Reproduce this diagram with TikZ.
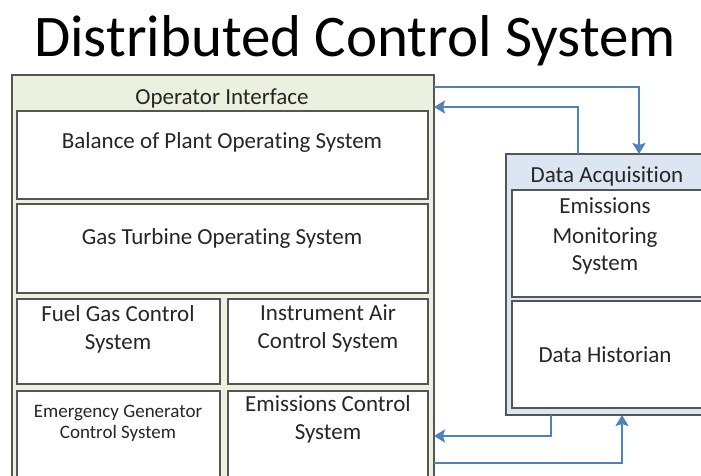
\documentclass[tikz,border=0pt]{standalone}
\usepackage{fontspec}
\setmainfont{Carlito}[Ligatures=NoCommon]
\usetikzlibrary{arrows.meta}
\definecolor{oifill}{HTML}{EBF1DE}
\definecolor{dafill}{HTML}{DCE6F2}
\definecolor{arr}{HTML}{4F81BD}
\definecolor{edge}{HTML}{555555}
\definecolor{txt}{HTML}{262626}
\begin{document}
\begin{tikzpicture}[x=1pt,y=-1pt,
  box/.style={draw=edge, line width=2.6pt,
    anchor=north west, inner sep=0pt, outer sep=0pt, fill=white},
  oibox/.style={box, fill=oifill},
  dabox/.style={box, fill=dafill},
  lbl/.style={anchor=base, text=txt, inner sep=0pt, font=\fontsize{23}{28}\selectfont},
  smalllbl/.style={lbl, font=\fontsize{19}{23}\selectfont},
  titlelbl/.style={anchor=base, text=black, inner sep=0pt, font=\fontsize{59}{70}\selectfont},
  conn/.style={draw=arr, line width=2.8pt, -{Stealth[length=11pt,width=13pt,inset=2pt]}}
]
\useasboundingbox (0,0) rectangle (701,476);
\clip (0,0) rectangle (701,476);
\fill[white] (0,0) rectangle (701,476);

\node[titlelbl] (title) at (355,57) {Distributed Control System};

% Operator interface
\node[oibox, minimum width=422pt, minimum height=430pt] (oi) at (12,75) {};
\node[lbl] (oit) at (222,105) {Operator Interface};
\node[box, minimum width=411pt, minimum height=88pt] (bal) at (17,111) {};
\node[lbl] (balt) at (222,148) {Balance of Plant Operating System};
\node[box, minimum width=411pt, minimum height=89pt] (gas) at (17,204) {};
\node[lbl] (gast) at (222,244) {Gas Turbine Operating System};
\node[box, minimum width=203pt, minimum height=85pt] (fuel) at (17,299) {};
\node[lbl] (fuelt1) at (118,321) {Fuel Gas Control};
\node[lbl] (fuelt2) at (118,349) {System};
\node[box, minimum width=200pt, minimum height=85pt] (inst) at (228,299) {};
\node[lbl] (instt1) at (328,320) {Instrument Air};
\node[lbl] (instt2) at (328,348) {Control System};
\node[box, minimum width=203pt, minimum height=110pt] (emerg) at (17,391) {};
\node[smalllbl] (emergt1) at (118,417) {Emergency Generator};
\node[smalllbl] (emergt2) at (118,438) {Control System};
\node[box, minimum width=200pt, minimum height=110pt] (emc) at (228,391) {};
\node[lbl] (emct1) at (328,411) {Emissions Control};
\node[lbl] (emct2) at (328,439) {System};

% Data acquisition
\node[dabox, minimum width=220pt, minimum height=261pt] (da) at (506,154) {};
\node[lbl] (dat) at (607,182) {Data Acquisition};
\node[box, minimum width=200pt, minimum height=107pt] (ems) at (512,190) {};
\node[lbl] (emst1) at (605,213) {Emissions};
\node[lbl] (emst2) at (605,243) {Monitoring};
\node[lbl] (emst3) at (605,270) {System};
\node[box, minimum width=200pt, minimum height=107pt] (hist) at (512,301) {};
\node[lbl] (histt) at (605,362) {Data Historian};

% Connectors
\draw[conn] ([yshift=-12pt]oi.north east) -| ([xshift=133pt]da.north west);
\draw[conn] ([xshift=72pt]da.north west) |- ([yshift=-32pt]oi.north east);
\draw[conn] ([xshift=45pt]da.south west) |- ([yshift=-361pt]oi.north east);
\draw[conn] ([yshift=-388pt]oi.north east) -| ([xshift=116pt]da.south west);
\end{tikzpicture}
\end{document}
